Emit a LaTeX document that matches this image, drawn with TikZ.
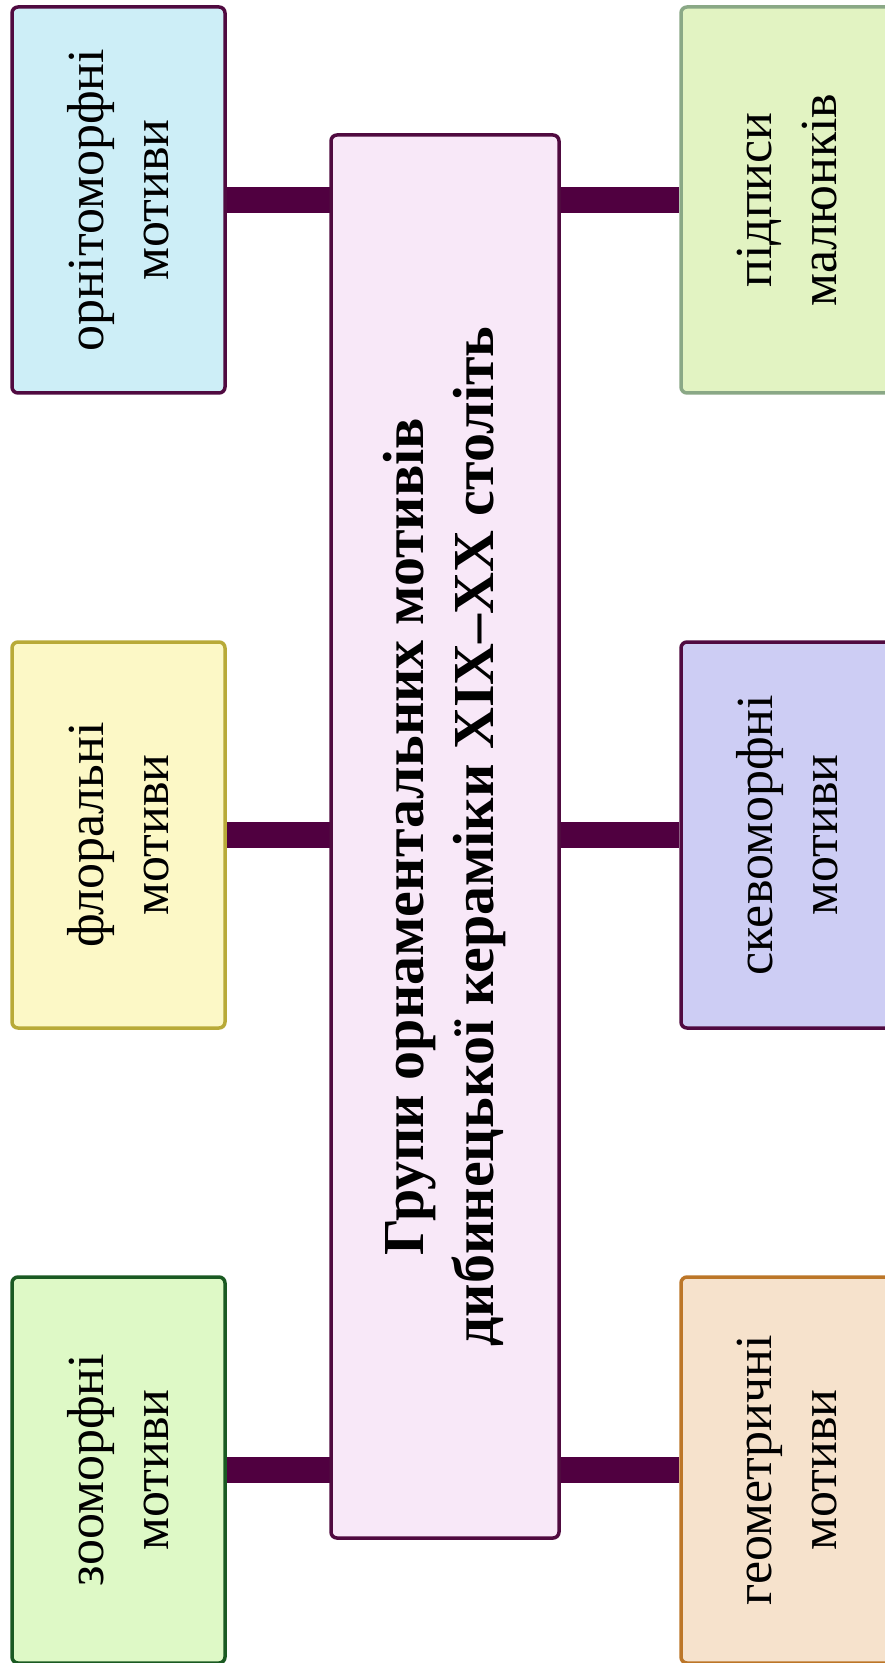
\documentclass[tikz,border=0pt]{standalone}
\usepackage{fontspec}
\setmainfont{Liberation Serif}
\usetikzlibrary{backgrounds}

\definecolor{plum}{HTML}{500A40}
\definecolor{barplum}{HTML}{500040}
\definecolor{ornfill}{HTML}{CDEEF7}
\definecolor{florfill}{HTML}{FCF8C6}
\definecolor{flordraw}{HTML}{B8AA38}
\definecolor{zoofill}{HTML}{DEF9C6}
\definecolor{zoodraw}{HTML}{1A5A22}
\definecolor{titlefill}{HTML}{F8E8F8}
\definecolor{capfill}{HTML}{E2F3C2}
\definecolor{capdraw}{HTML}{8AA886}
\definecolor{skevfill}{HTML}{CDCDF4}
\definecolor{geomfill}{HTML}{F6E2CC}
\definecolor{geomdraw}{HTML}{BC7628}

\begin{document}
\begin{tikzpicture}[x=0.5pt,y=-0.5pt]
\tikzset{motif/.style = {shape=rectangle,draw,rounded corners=3pt,line width=1.75pt,rotate=90,
  minimum width=193pt,minimum height=106.5pt,align=center,font=\fontsize{26}{32.5}\selectfont}}
\tikzset{title/.style = {motif,minimum width=701.5pt,minimum height=114pt,
  font=\fontsize{29}{35}\selectfont\bfseries}}
\useasboundingbox (0,0) rectangle (884,1663);
% vertices
\node[motif,draw=plum,fill=ornfill] (orn) at (118.5,200) {орнітоморфні\\мотиви};
\node[motif,draw=flordraw,fill=florfill] (flor) at (118.5,835) {флоральні\\мотиви};
\node[motif,draw=zoodraw,fill=zoofill] (zoo) at (118.5,1470) {зооморфні\\мотиви};
\node[title,draw=plum,fill=titlefill] (groups) at (445,836.5) {Групи орнаментальних мотивів\\дибинецької кераміки XIX–XX століть};
\node[motif,draw=capdraw,fill=capfill] (capt) at (787.5,200) {підписи\\малюнків};
\node[motif,draw=plum,fill=skevfill] (skev) at (787.5,835) {скевоморфні\\мотиви};
\node[motif,draw=geomdraw,fill=geomfill] (geom) at (787.5,1470) {геометричні\\мотиви};

%edges
\tikzset{edge/.style = {line width=13pt,draw=barplum}}
\begin{scope}[on background layer]
\draw[edge] (orn) to[] (capt);
\draw[edge] (flor) to[] (skev);
\draw[edge] (zoo) to[] (geom);
\end{scope}
\end{tikzpicture}
\end{document}
